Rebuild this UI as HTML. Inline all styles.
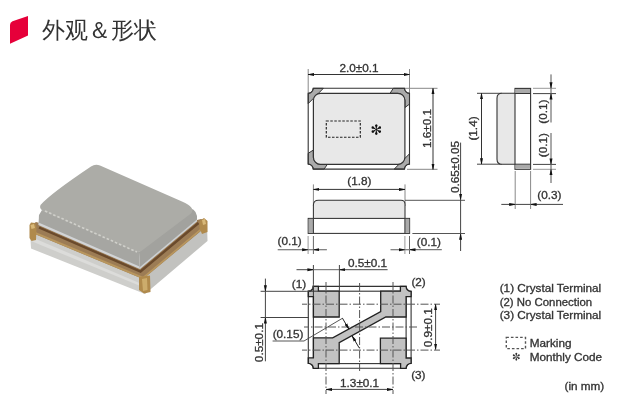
<!DOCTYPE html>
<html><head><meta charset="utf-8">
<style>
html,body{margin:0;padding:0;background:#fff;}
body{width:622px;height:417px;overflow:hidden;position:relative;font-family:"Liberation Sans",sans-serif;}
svg{position:absolute;left:0;top:0;will-change:transform;}
text{stroke:#333;stroke-width:0.3;}
.lg text{stroke-width:0.3;}
</style></head><body>
<svg width="622" height="417" viewBox="0 0 622 417" font-family="Liberation Sans, sans-serif">
<defs>
<marker id="ar" viewBox="0 0 6 6" refX="6" refY="3" markerWidth="6" markerHeight="6" markerUnits="userSpaceOnUse" orient="auto-start-reverse">
<path d="M0,1.5 L6,2.75 L6,3.25 L0,4.5 Z" fill="#111"/>
</marker>
</defs>

<!-- header -->
<path d="M10,25 Q10,22.5 12.5,21.3 L28,16 L28,35.5 L10,43.7 Z" fill="#e6003a"/>
<text x="42" y="38" font-size="23" fill="#333" style="stroke:none">外观＆形状</text>

<!-- photo -->
<g id="photo">
  <!-- base faces -->
  <polygon points="30,231 143,278 145,294 31,248.5" fill="#cececb"/>
  <polygon points="31,237 143,284.5 144,287.5 31,241" fill="#dcdcda"/>
  <polygon points="143,278 207,224 207.5,241 145,294" fill="#c2c2bf"/>
  <!-- ring -->
  <polygon points="39.5,223 140,267 197,220 201,219 207,221 207,226 143,279 30,232 30,226 36,222" fill="#9c7c55"/>
  <polyline points="39,227.5 140.5,271.5 198.5,223" fill="none" stroke="#6a4a2c" stroke-width="2.4"/>
  <polygon points="30,229.8 143,276.8 207,223.3 207,225.5 143,279 30,232" fill="#b8965e"/>
  <!-- pads -->
  <polygon points="29.5,225 31,222.5 35,223 36.5,227 36,240 31.5,241 29.5,238" fill="#b08a4c"/>
  <polygon points="30.5,225 34,224 35,228 31.5,229" fill="#d8b878"/>
  <polygon points="139,277 150,275.5 150.5,292 144,293.5 139,290" fill="#b08a4c"/>
  <polygon points="142,279 147,278 147.5,290 143,291" fill="#ccac6c"/>
  <polygon points="199.5,221 204,218 207.5,221 207.5,232 202,234 199.5,228" fill="#b08a4c"/>
  <polygon points="202,220 205,219 206,224 203,225" fill="#d8b878"/>
  <!-- lid faces -->
  <polygon points="42,210 139,252 140,269 38.5,225 39,215" fill="#a6a6a2"/>
  <polygon points="38.5,222.5 139.5,266.5 140,269 38.5,225" fill="#d2d4d6"/>
  <path d="M139,252 L185,207 Q196,208 197,216 V221 L140,269 Z" fill="#a2a29e"/>
  <polygon points="197,219.5 140,267 140,269 197,221.5" fill="#cdd0d2"/>
  <path d="M100,165.5 L182,201.5 Q196,207.5 191,213.5 L142,250.5 Q139,253 135,251.5 L45,212 Q38.5,209 40.5,205 Q50,194 91,166.5 Q95,163.8 100,165.5 Z" fill="#acaca7"/>
  <polyline points="45,211 137,252" fill="none" stroke="#d0d0cb" stroke-width="1.6" stroke-dasharray="2.5,2"/>
</g>

<!-- ===== top view ===== -->
<g stroke-linecap="butt">
  <!-- dims -->
  <line x1="308.2" y1="69" x2="308.2" y2="93.3" stroke="#888" stroke-width="1"/>
  <line x1="409.5" y1="69" x2="409.5" y2="93.3" stroke="#888" stroke-width="1"/>
  <line x1="308" y1="74.5" x2="409.5" y2="74.5" stroke="#333" stroke-width="1" marker-start="url(#ar)" marker-end="url(#ar)"/>
  <text transform="translate(359,71.5) scale(1.12,1)" font-size="10.5" fill="#333" text-anchor="middle">2.0±0.1</text>

  <line x1="404.5" y1="88.3" x2="437.5" y2="88.3" stroke="#888" stroke-width="1"/>
  <line x1="407" y1="169.3" x2="437.5" y2="169.3" stroke="#888" stroke-width="1"/>
  <line x1="433" y1="88.3" x2="433" y2="169.5" stroke="#333" stroke-width="1" marker-start="url(#ar)" marker-end="url(#ar)"/>
  <text transform="translate(430.5,128.5) rotate(-90) scale(1.12,1)" font-size="10.5" fill="#333" text-anchor="middle">1.6±0.1</text>

  <!-- corner pads -->
  <g fill="#aaa" stroke="#333" stroke-width="1">
    <path d="M308.2,93.3 A5,5 0 0 0 313.2,88.3 H323.4 L308.2,103.6 Z"/>
    <path d="M393.3,88.3 H404.5 A5,5 0 0 0 409.5,93.3 V104.1 L404.9,107.6 V100.4 A7,7 0 0 0 397.9,93.4 H390 Z"/>
    <path d="M409.5,164.1 A5,5 0 0 0 404.5,169.1 H394.2 L409.5,153.8 Z"/>
    <path d="M308.2,153.3 L313.4,150 V157.3 A7,7 0 0 0 320.4,164.3 H327.4 L324.1,169.1 H313.2 A5,5 0 0 0 308.2,164.1 Z"/>
  </g>
  <path d="M313.2,88.3 H404.5 A5,5 0 0 0 409.5,93.3 V164.1 A5,5 0 0 0 404.5,169.1 H313.2 A5,5 0 0 0 308.2,164.1 V93.3 A5,5 0 0 0 313.2,88.3 Z" fill="none" stroke="#333" stroke-width="1.1"/>
  <!-- lid -->
  <rect x="313.4" y="93.4" width="91.5" height="70.9" rx="7" fill="#e8e8e8" stroke="#333" stroke-width="1.2"/>
  <rect x="326.3" y="121" width="34" height="16.2" fill="none" stroke="#222" stroke-width="1.15" stroke-dasharray="2.5,1.5"/>
<g transform="translate(376.3,129.6)" fill="#111"><circle r="1"/><path transform="rotate(0)" d="M0,0 L-0.9,-3.2 A1.25,1.25 0 1 1 0.9,-3.2 Z"/><path transform="rotate(60)" d="M0,0 L-0.9,-3.2 A1.25,1.25 0 1 1 0.9,-3.2 Z"/><path transform="rotate(120)" d="M0,0 L-0.9,-3.2 A1.25,1.25 0 1 1 0.9,-3.2 Z"/><path transform="rotate(180)" d="M0,0 L-0.9,-3.2 A1.25,1.25 0 1 1 0.9,-3.2 Z"/><path transform="rotate(240)" d="M0,0 L-0.9,-3.2 A1.25,1.25 0 1 1 0.9,-3.2 Z"/><path transform="rotate(300)" d="M0,0 L-0.9,-3.2 A1.25,1.25 0 1 1 0.9,-3.2 Z"/></g>
</g>

<!-- ===== front view ===== -->
<g>
  <line x1="313.4" y1="184.4" x2="313.4" y2="206" stroke="#888" stroke-width="1"/>
  <line x1="405" y1="184.4" x2="405" y2="206" stroke="#888" stroke-width="1"/>
  <line x1="313.4" y1="189.4" x2="405" y2="189.4" stroke="#333" stroke-width="1" marker-start="url(#ar)" marker-end="url(#ar)"/>
  <text transform="translate(359.3,185) scale(1.12,1)" font-size="10.5" fill="#333" text-anchor="middle">(1.8)</text>

  <path d="M313.4,218.4 V205.3 Q313.4,200.3 318.4,200.3 H401 Q405,200.3 405,204.3 V218.4" fill="#e8e8e8" stroke="#333" stroke-width="1.05"/>
  <rect x="308.2" y="218.4" width="101.4" height="15" fill="#fff" stroke="#333" stroke-width="1.05"/>
  <rect x="308.7" y="218.9" width="4.7" height="14" fill="#aaa"/>
  <rect x="404.9" y="218.9" width="4.4" height="14" fill="#aaa"/>
  <line x1="313.4" y1="218.4" x2="313.4" y2="233.4" stroke="#333" stroke-width="1"/>
  <line x1="404.9" y1="218.4" x2="404.9" y2="233.4" stroke="#333" stroke-width="1"/>

  <line x1="308.1" y1="236" x2="308.1" y2="254" stroke="#999" stroke-width="1"/>
  <line x1="313.4" y1="236" x2="313.4" y2="254" stroke="#666" stroke-width="1"/>
  <line x1="404.9" y1="236" x2="404.9" y2="254" stroke="#999" stroke-width="1"/>
  <line x1="409.5" y1="236" x2="409.5" y2="254" stroke="#666" stroke-width="1"/>
  <line x1="277.7" y1="249.7" x2="308.1" y2="249.7" stroke="#777" stroke-width="1.2" marker-end="url(#ar)"/>
  <line x1="326.9" y1="249.7" x2="313.4" y2="249.7" stroke="#777" stroke-width="1.2" marker-end="url(#ar)"/>
  <line x1="390.5" y1="249.7" x2="404.9" y2="249.7" stroke="#777" stroke-width="1.2" marker-end="url(#ar)"/>
  <line x1="441.8" y1="249.7" x2="409.5" y2="249.7" stroke="#777" stroke-width="1.2" marker-end="url(#ar)"/>
  <text transform="translate(289.6,245) scale(1.12,1)" font-size="10.5" fill="#333" text-anchor="middle">(0.1)</text>
  <text transform="translate(428.8,245.5) scale(1.12,1)" font-size="10.5" fill="#333" text-anchor="middle">(0.1)</text>

  <line x1="405" y1="200.3" x2="465" y2="200.3" stroke="#555" stroke-width="1"/>
  <line x1="412.4" y1="233.5" x2="465" y2="233.5" stroke="#555" stroke-width="1"/>
  <line x1="460.6" y1="142.6" x2="460.6" y2="199.8" stroke="#444" stroke-width="1" marker-end="url(#ar)"/>
  <line x1="460.6" y1="251" x2="460.6" y2="233.8" stroke="#444" stroke-width="1" marker-end="url(#ar)"/>
  <text transform="translate(458.5,167) rotate(-90) scale(1.12,1)" font-size="10.5" fill="#333" text-anchor="middle">0.65±0.05</text>
</g>

<!-- ===== side view ===== -->
<g>
  <line x1="477" y1="93.3" x2="502" y2="93.3" stroke="#444" stroke-width="1"/>
  <line x1="477" y1="164.2" x2="502" y2="164.2" stroke="#444" stroke-width="1"/>
  <line x1="481.5" y1="93.3" x2="481.5" y2="164.2" stroke="#333" stroke-width="1" marker-start="url(#ar)" marker-end="url(#ar)"/>
  <text transform="translate(477,128.5) rotate(-90) scale(1.12,1)" font-size="10.5" fill="#333" text-anchor="middle">(1.4)</text>

  <path d="M515,93.3 H502 Q497,93.3 497,98.3 V159.2 Q497,164.2 502,164.2 H515" fill="#e8e8e8" stroke="#333" stroke-width="1.1"/>
  <rect x="515" y="88.4" width="15.6" height="80.9" fill="#fff" stroke="#333" stroke-width="1.1"/>
  <rect x="515.6" y="89" width="14.4" height="4.3" fill="#aaa"/>
  <rect x="515.6" y="164.5" width="14.4" height="4.2" fill="#aaa"/>
  <line x1="515" y1="93.5" x2="530.6" y2="93.5" stroke="#333" stroke-width="1"/>
  <line x1="515" y1="164.2" x2="530.6" y2="164.2" stroke="#333" stroke-width="1"/>

  <line x1="533" y1="88.3" x2="556" y2="88.3" stroke="#999" stroke-width="1"/>
  <line x1="533" y1="93.6" x2="556" y2="93.6" stroke="#444" stroke-width="1"/>
  <line x1="533" y1="164.4" x2="556" y2="164.4" stroke="#444" stroke-width="1"/>
  <line x1="533" y1="169.3" x2="556" y2="169.3" stroke="#999" stroke-width="1"/>
  <line x1="551" y1="74.4" x2="551" y2="88.3" stroke="#555" stroke-width="1" marker-end="url(#ar)"/>
  <line x1="551" y1="122.5" x2="551" y2="93.6" stroke="#555" stroke-width="1" marker-end="url(#ar)"/>
  <line x1="551" y1="133" x2="551" y2="164.4" stroke="#555" stroke-width="1" marker-end="url(#ar)"/>
  <line x1="551" y1="183" x2="551" y2="169.3" stroke="#555" stroke-width="1" marker-end="url(#ar)"/>
  <text transform="translate(547,111.7) rotate(-90) scale(1.12,1)" font-size="10.5" fill="#333" text-anchor="middle">(0.1)</text>
  <text transform="translate(547,145.2) rotate(-90) scale(1.12,1)" font-size="10.5" fill="#333" text-anchor="middle">(0.1)</text>

  <line x1="515.2" y1="171" x2="515.2" y2="209" stroke="#888" stroke-width="1"/>
  <line x1="530.6" y1="171" x2="530.6" y2="209" stroke="#888" stroke-width="1"/>
  <line x1="501.3" y1="204.4" x2="515.2" y2="204.4" stroke="#444" stroke-width="1" marker-end="url(#ar)"/>
  <line x1="563" y1="204.4" x2="530.6" y2="204.4" stroke="#444" stroke-width="1" marker-end="url(#ar)"/>
  <text transform="translate(549.3,199) scale(1.12,1)" font-size="10.5" fill="#333" text-anchor="middle">(0.3)</text>
</g>

<!-- ===== land pattern ===== -->
<g>
  <path d="M313.3,286.4 H406.1 A5,5 0 0 0 411.1,291.4 V363.3 A5,5 0 0 0 406.1,368.3 H313.3 A5,5 0 0 0 308.3,363.3 V291.4 A5,5 0 0 0 313.3,286.4 Z" fill="none" stroke="#333" stroke-width="1.1"/>
  <rect x="313.4" y="291.2" width="92.7" height="72.4" fill="none" stroke="#333" stroke-width="1.1"/>
  <g fill="#c2c2c2" stroke="#222" stroke-width="1.3">
    <path d="M308.3,291.4 A5,5 0 0 0 313.3,286.4 H318.4 V291.2 H339.2 V317 H313.4 V296.6 H308.3 Z"/>
    <path d="M380.7,291.2 H400.4 V286.4 H406.1 A5,5 0 0 0 411.1,291.4 V296.6 H406.1 V317 H385.8 L339.2,342.6 V363.6 H318.4 V368.3 H313.3 A5,5 0 0 0 308.3,363.3 V357.8 H313.4 V337.8 H332.7 L380.7,311.5 Z"/>
    <path d="M380.4,338.2 H406.1 V358 H411.1 V363.3 A5,5 0 0 0 406.1,368.3 H400.6 V363.6 H380.4 Z"/>
  </g>
  <line x1="313.4" y1="286" x2="313.4" y2="296.6" stroke="#333" stroke-width="1"/>
  <line x1="308.3" y1="291.2" x2="318.4" y2="291.2" stroke="#333" stroke-width="1"/>
  <!-- center lines -->
  <g stroke="#555" stroke-width="1" stroke-dasharray="8,2,1.5,2">
    <line x1="326" y1="282" x2="326" y2="394"/>
    <line x1="359.6" y1="283" x2="359.6" y2="371"/>
    <line x1="393" y1="282" x2="393" y2="394"/>
    <line x1="302" y1="304.2" x2="440" y2="304.2" stroke-dashoffset="3"/>
    <line x1="304" y1="327" x2="417" y2="327" stroke-dashoffset="3"/>
    <line x1="302" y1="350.1" x2="440" y2="350.1" stroke-dashoffset="3"/>
  </g>
  <!-- (0.15) leader -->
  <polyline points="272.6,341 304,341 342.4,318.3" fill="none" stroke="#444" stroke-width="0.9"/>
  <line x1="342.4" y1="318.1" x2="348.9" y2="329.2" stroke="#222" stroke-width="1" marker-end="url(#ar)"/>
  <line x1="359.1" y1="347.8" x2="352.1" y2="335.9" stroke="#222" stroke-width="1" marker-end="url(#ar)"/>
  <text transform="translate(288,337.5) scale(1.12,1)" font-size="10.5" fill="#333" text-anchor="middle">(0.15)</text>

  <!-- top dim 0.5 -->
  <line x1="313.4" y1="265" x2="313.4" y2="284.6" stroke="#444" stroke-width="1"/>
  <line x1="339.4" y1="265" x2="339.4" y2="291" stroke="#444" stroke-width="1"/>
  <line x1="296.5" y1="269.7" x2="313.4" y2="269.7" stroke="#444" stroke-width="1" marker-end="url(#ar)"/>
  <line x1="387.6" y1="269.7" x2="339.4" y2="269.7" stroke="#444" stroke-width="1" marker-end="url(#ar)"/>
  <text transform="translate(367.5,267) scale(1.12,1)" font-size="10.5" fill="#333" text-anchor="middle">0.5±0.1</text>

  <!-- left dim 0.5 -->
  <path d="M313.4,284.5 Q313.4,291.3 306.8,291.3 H260.6" fill="none" stroke="#444" stroke-width="1"/>
  <line x1="260.6" y1="317.5" x2="309" y2="317.5" stroke="#444" stroke-width="1"/>
  <line x1="265.4" y1="278.6" x2="265.4" y2="291.3" stroke="#444" stroke-width="1" marker-end="url(#ar)"/>
  <line x1="265.4" y1="361.3" x2="265.4" y2="317.5" stroke="#444" stroke-width="1" marker-end="url(#ar)"/>
  <text transform="translate(263,342.6) rotate(-90) scale(1.12,1)" font-size="10.5" fill="#333" text-anchor="middle">0.5±0.1</text>

  <!-- right dim 0.9 -->
  <line x1="435.6" y1="304.3" x2="435.6" y2="349.6" stroke="#444" stroke-width="1" marker-start="url(#ar)" marker-end="url(#ar)"/>
  <text transform="translate(432,327.7) rotate(-90) scale(1.12,1)" font-size="10.5" fill="#333" text-anchor="middle">0.9±0.1</text>

  <!-- bottom dim 1.3 -->
  <line x1="326" y1="389.4" x2="393" y2="389.4" stroke="#444" stroke-width="1" marker-start="url(#ar)" marker-end="url(#ar)"/>
  <text transform="translate(359.6,386.7) scale(1.12,1)" font-size="10.5" fill="#333" text-anchor="middle">1.3±0.1</text>

  <text transform="translate(299,287.7) scale(1.12,1)" font-size="10.5" fill="#333" text-anchor="middle">(1)</text>
  <text transform="translate(418.6,285.8) scale(1.12,1)" font-size="10.5" fill="#333" text-anchor="middle">(2)</text>
  <text transform="translate(418.3,379) scale(1.12,1)" font-size="10.5" fill="#333" text-anchor="middle">(3)</text>
</g>

<!-- legend -->
<g class="lg" font-size="10.5" fill="#333">
  <text transform="translate(499.7,291.9) scale(1.12,1)">(1) Crystal Terminal</text>
  <text transform="translate(499.7,305.6) scale(1.086,1)">(2) No Connection</text>
  <text transform="translate(499.7,319.4) scale(1.12,1)">(3) Crystal Terminal</text>
  <rect x="506.3" y="337.4" width="19.2" height="11.2" fill="none" stroke="#555" stroke-width="1.4" stroke-dasharray="2.6,2"/>
  <text transform="translate(529.7,347) scale(1.12,1)">Marking</text>
<g transform="translate(516.3,356.7)" fill="#333"><path transform="rotate(0)" d="M0,0 L-0.7,-2.3 A0.95,0.95 0 1 1 0.7,-2.3 Z"/><path transform="rotate(60)" d="M0,0 L-0.7,-2.3 A0.95,0.95 0 1 1 0.7,-2.3 Z"/><path transform="rotate(120)" d="M0,0 L-0.7,-2.3 A0.95,0.95 0 1 1 0.7,-2.3 Z"/><path transform="rotate(180)" d="M0,0 L-0.7,-2.3 A0.95,0.95 0 1 1 0.7,-2.3 Z"/><path transform="rotate(240)" d="M0,0 L-0.7,-2.3 A0.95,0.95 0 1 1 0.7,-2.3 Z"/><path transform="rotate(300)" d="M0,0 L-0.7,-2.3 A0.95,0.95 0 1 1 0.7,-2.3 Z"/></g>
  <text transform="translate(529.7,360.9) scale(1.12,1)">Monthly Code</text>
  <text transform="translate(564.5,389.8) scale(1.12,1)">(in mm)</text>
</g>

<g stroke="#555" stroke-width="1">
  <line x1="308.1" y1="249.7" x2="313.4" y2="249.7" stroke="#777" stroke-width="1.2"/>
  <line x1="404.9" y1="249.7" x2="409.5" y2="249.7" stroke="#777" stroke-width="1.2"/>
  <line x1="460.6" y1="199.8" x2="460.6" y2="233.8" stroke="#444"/>
  <line x1="551" y1="88.3" x2="551" y2="93.6"/>
  <line x1="551" y1="164.4" x2="551" y2="169.3"/>
  <line x1="515.2" y1="204.4" x2="530.6" y2="204.4" stroke="#444"/>
  <line x1="313.4" y1="269.7" x2="339.4" y2="269.7" stroke="#666"/>
  <line x1="265.4" y1="291.3" x2="265.4" y2="317.5" stroke="#444"/>
</g>
</svg>
</body></html>
